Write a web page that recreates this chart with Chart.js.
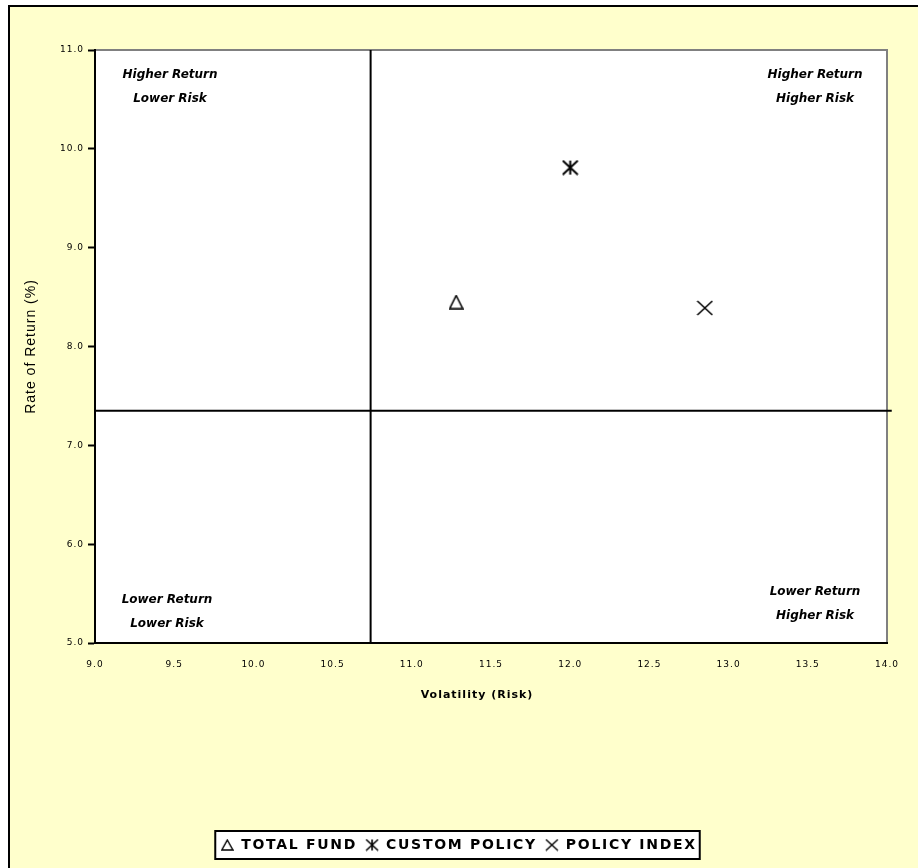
<!DOCTYPE html>
<html>
<head>
<meta charset="utf-8">
<script src="https://cdn.jsdelivr.net/npm/chart.js@4.4.1/dist/chart.umd.min.js"></script>
<style>
  html, body { margin: 0; padding: 0; background: #fff; }
  #wrap { position: relative; width: 918px; height: 868px; }
</style>
</head>
<body>
<div id="wrap"><canvas id="grafico"></canvas></div>
<script>
// datos
const seriesNames = ['TOTAL FUND', 'CUSTOM POLICY', 'POLICY INDEX'];
const riskValues = [11.28, 12.0, 12.85];
const returnValues = [8.45, 9.81, 8.39];
const xTickValues = [9.0, 9.5, 10.0, 10.5, 11.0, 11.5, 12.0, 12.5, 13.0, 13.5, 14.0];
const yTickValues = [5.0, 6.0, 7.0, 8.0, 9.0, 10.0, 11.0];
const crossRisk = 10.74;
const crossReturn = 7.35;
const quadrantLabels = [
    ['Higher Return', 'Lower Risk'],
    ['Higher Return', 'Higher Risk'],
    ['Lower Return', 'Lower Risk'],
    ['Lower Return', 'Higher Risk']
];

const AMARILLO = '#FFFFCC';
const DESPL_LEYENDA = 15;   // la leyenda original no esta centrada
const DESPL_TITULO_X = -14;

// simbolos dibujados en canvas pequenos
function simbolo(tipo, w, h, lw) {
    const c = document.createElement('canvas');
    c.width = w + 2; c.height = h + 2;
    const g = c.getContext('2d');
    g.strokeStyle = '#000';
    g.lineWidth = lw;
    g.beginPath();
    const l = 1, t = 1, r = w + 1, b = h + 1, m = (w + 2) / 2;
    if (tipo === 'tri') {
        g.moveTo(m, t); g.lineTo(r, b); g.lineTo(l, b); g.closePath();
    } else if (tipo === 'ast') {
        g.moveTo(m, t); g.lineTo(m, b);
        g.moveTo(l, t); g.lineTo(r, b);
        g.moveTo(r, t); g.lineTo(l, b);
    } else {
        g.moveTo(l, t); g.lineTo(r, b);
        g.moveTo(r, t); g.lineTo(l, b);
    }
    g.stroke();
    return c;
}

const estilosGrafico = [simbolo('tri', 13, 13, 1.6), simbolo('ast', 15, 14, 2), simbolo('x', 15, 14, 1.6)];
const estilosLeyenda = [simbolo('tri', 11, 10, 1.4), simbolo('ast', 12, 11, 1.6), simbolo('x', 12, 11, 1.4)];

const fondoPlugin = {
    id: 'fondo',
    beforeLayout(chart) {
        chart.ctx.letterSpacing = '1px';
        const lg = chart.legend;
        if (lg && !lg._espaciado) {
            lg._espaciado = true;
            const fit = lg.fit.bind(lg);
            const draw = lg.draw.bind(lg);
            lg.fit = function () {
                const prev = this.ctx.letterSpacing;
                this.ctx.letterSpacing = '1.7px';
                fit();
                this.ctx.letterSpacing = prev;
            };
            lg.draw = function () {
                const prev = this.ctx.letterSpacing;
                this.ctx.save();
                this.ctx.translate(DESPL_LEYENDA, 0);
                this.ctx.letterSpacing = '1.7px';
                draw();
                this.ctx.restore();
                this.ctx.letterSpacing = prev;
            };
        }
        const sx = chart.scales.x;
        if (sx && !sx._movido) {
            sx._movido = true;
            const dt = sx.drawTitle.bind(sx);
            sx.drawTitle = function () {
                this.ctx.save();
                this.ctx.translate(DESPL_TITULO_X, 0);
                dt();
                this.ctx.restore();
            };
        }
    },
    beforeDraw(chart) {
        const ctx = chart.ctx;
        ctx.letterSpacing = '1px';
        const a = chart.chartArea;
        ctx.save();
        ctx.fillStyle = '#fff';
        ctx.fillRect(0, 0, chart.width, chart.height);
        ctx.fillStyle = AMARILLO;
        ctx.fillRect(8, 5, chart.width, chart.height);
        ctx.strokeStyle = '#000';
        ctx.lineWidth = 2;
        ctx.beginPath();
        ctx.moveTo(9, chart.height + 5);
        ctx.lineTo(9, 6);
        ctx.lineTo(chart.width + 5, 6);
        ctx.stroke();
        // area de trazado
        ctx.fillStyle = '#fff';
        ctx.fillRect(a.left, a.top, a.right - a.left, a.bottom - a.top);
        ctx.strokeStyle = '#808080';
        ctx.lineWidth = 2;
        ctx.beginPath();
        ctx.moveTo(a.left, a.top);
        ctx.lineTo(a.right, a.top);
        ctx.lineTo(a.right, a.bottom);
        ctx.stroke();
        // caja de la leyenda
        const lg = chart.legend;
        if (lg && lg.legendHitBoxes.length) {
            const hb = lg.legendHitBoxes;
            const x0 = Math.min(...hb.map(h => h.left)) - 5 + DESPL_LEYENDA;
            const x1 = Math.max(...hb.map(h => h.left + h.width)) + 3 + DESPL_LEYENDA;
            const y0 = Math.min(...hb.map(h => h.top)) - 7;
            const y1 = Math.max(...hb.map(h => h.top + h.height)) + 7;
            ctx.fillStyle = '#fff';
            ctx.fillRect(x0, y0, x1 - x0, y1 - y0);
            ctx.strokeStyle = '#000';
            ctx.lineWidth = 2;
            ctx.strokeRect(x0, y0, x1 - x0, y1 - y0);
        }
        ctx.restore();
    },
    afterDraw(chart) {
        const ctx = chart.ctx;
        const a = chart.chartArea;
        ctx.save();
        ctx.letterSpacing = '0px';
        ctx.fillStyle = '#000';
        ctx.font = 'italic bold 12px "DejaVu Sans"';
        ctx.textAlign = 'center';
        ctx.textBaseline = 'middle';
        const pos = [
            [a.left + 75, a.top + 25],
            [a.right - 72, a.top + 25],
            [a.left + 72, a.bottom - 43],
            [a.right - 72, a.bottom - 51]
        ];
        quadrantLabels.forEach((lineas, i) => {
            lineas.forEach((txt, j) => {
                ctx.fillText(txt, pos[i][0], pos[i][1] + j * 24);
            });
        });
        ctx.restore();
    }
};

const datasets = seriesNames.map((nombre, i) => ({
    label: nombre,
    data: [{ x: riskValues[i], y: returnValues[i] }],
    pointStyle: estilosGrafico[i],
    pointRadius: 8,
    pointHoverRadius: 8,
    showLine: false
}));

datasets.push({
    label: 'vertical',
    type: 'line',
    data: [{ x: crossRisk, y: 5 }, { x: crossRisk, y: 11 }],
    borderColor: '#000',
    borderWidth: 2,
    pointRadius: 0,
    clip: false
});
datasets.push({
    label: 'horizontal',
    type: 'line',
    data: [{ x: 9, y: crossReturn }, { x: 14.03, y: crossReturn }],
    borderColor: '#000',
    borderWidth: 2,
    pointRadius: 0,
    clip: false
});

const ALTO_X = 187;

new Chart(document.getElementById('grafico'), {
    type: 'scatter',
    data: { datasets: datasets },
    options: {
        responsive: true,
        maintainAspectRatio: false,
        animation: false,
        events: [],
        layout: { padding: { left: 0, right: 31, top: 50, bottom: 6 } },
        plugins: {
            tooltip: { enabled: false },
            legend: {
                position: 'bottom',
                labels: {
                    usePointStyle: true,
                    color: '#000',
                    padding: 8,
                    font: { family: '"DejaVu Sans"', size: 14, weight: 'bold' },
                    filter: item => item.datasetIndex < seriesNames.length,
                    generateLabels: chart => {
                        const base = Chart.defaults.plugins.legend.labels.generateLabels(chart);
                        base.forEach(it => { if (it.datasetIndex < seriesNames.length) it.pointStyle = estilosLeyenda[it.datasetIndex]; });
                        return base;
                    }
                }
            }
        },
        scales: {
            x: {
                type: 'linear',
                min: 9,
                max: 14,
                afterBuildTicks: s => { s.ticks = xTickValues.map(v => ({ value: v })); },
                afterFit: s => { s.height = ALTO_X; },
                grid: { display: false },
                border: { display: true, color: '#000', width: 2 },
                ticks: {
                    color: '#000',
                    padding: 8,
                    font: { family: '"DejaVu Sans"', size: 9 },
                    callback: v => v.toFixed(1)
                },
                title: {
                    display: true,
                    text: 'Volatility (Risk)',
                    color: '#000',
                    font: { family: '"DejaVu Sans"', size: 11, weight: 'bold' },
                    padding: { top: 0, bottom: ALTO_X - 52 - 7 }
                }
            },
            y: {
                type: 'linear',
                min: 5,
                max: 11,
                afterBuildTicks: s => { s.ticks = yTickValues.map(v => ({ value: v })); },
                afterFit: s => { s.width = 95; },
                grid: { display: true, drawOnChartArea: false, color: '#000', tickLength: 7, tickWidth: 2 },
                border: { display: true, color: '#000', width: 2 },
                ticks: {
                    color: '#000',
                    padding: 4,
                    font: { family: '"DejaVu Sans"', size: 9 },
                    callback: v => v.toFixed(1)
                },
                title: {
                    display: true,
                    text: 'Rate of Return (%)',
                    color: '#000',
                    font: { family: '"Liberation Sans"', size: 14 },
                    padding: { top: 23, bottom: 0 }
                }
            }
        }
    },
    plugins: [fondoPlugin]
});
</script>
</body>
</html>
